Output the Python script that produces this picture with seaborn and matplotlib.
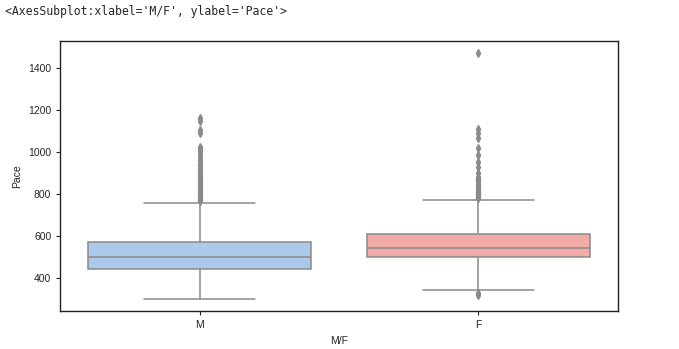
import numpy as np
import pandas as pd
import matplotlib
matplotlib.use("Agg")
import matplotlib.pyplot as plt
import seaborn as sns

# Pace summary per runner sex
groups = ["M", "F"]
lower_whisker = [299, 343]
q1 = [443, 499]
median = [500, 543]
q3 = [571, 611]
upper_whisker = [757, 770]

outliers_m = [766, 772, 779, 785, 792, 800, 808, 815, 823, 831, 840, 848,
              857, 866, 875, 884, 893, 903, 913, 925, 937, 950, 962, 975,
              990, 1005, 1015, 1024, 1090, 1107, 1148, 1164]
outliers_f = [316, 326,
              782, 787, 793, 799, 805, 812, 818, 825, 832, 840, 848, 856,
              865, 873, 881, 899, 929, 954, 984, 1018, 1067, 1089, 1108, 1473]
outliers = [outliers_m, outliers_f]

# Expand each group's summary into a sample whose quartiles land on the values above
BLOCK = 60
rows = []
for g, lo, a, m, b, hi, extra in zip(groups, lower_whisker, q1, median, q3,
                                     upper_whisker, outliers):
    values = [lo] + [a] * BLOCK + [m] * BLOCK + [b] * BLOCK + [hi] + list(extra)
    rows += [(g, v) for v in values]
df = pd.DataFrame(rows, columns=["M/F", "Pace"])

sns.set_style("ticks")
plt.rcParams["font.family"] = ["Liberation Sans", "DejaVu Sans"]

fig = plt.figure(figsize=(6.79, 3.49), dpi=100)
ax = fig.add_axes([60.3 / 679, 1 - 311.3 / 349, (617.7 - 60.3) / 679, (311.3 - 40.7) / 349])

line_gray = "#8a8a8a"
pastel = sns.color_palette("pastel")
sns.boxplot(data=df, x="M/F", y="Pace", order=groups,
            palette=[pastel[0], pastel[3]], hue="M/F", legend=False,
            width=0.8, linewidth=1.1, linecolor=line_gray, saturation=0.75,
            flierprops=dict(marker="d", markersize=4, markerfacecolor=line_gray,
                            markeredgecolor=line_gray),
            ax=ax)

ax.tick_params(labelsize=7.5, length=3, width=0.8, color="#222222")
ax.set_xlabel("M/F", fontsize=7.5)
ax.set_ylabel("Pace", fontsize=7.5)
for s in ax.spines.values():
    s.set_linewidth(1.0)
    s.set_color("#222222")

fig.text(5 / 679, 1 - 12 / 349, "<AxesSubplot:xlabel='M/F', ylabel='Pace'>",
         family="DejaVu Sans Mono", fontsize=8.3, va="center", ha="left")

fig.savefig("out.png", dpi=100)
